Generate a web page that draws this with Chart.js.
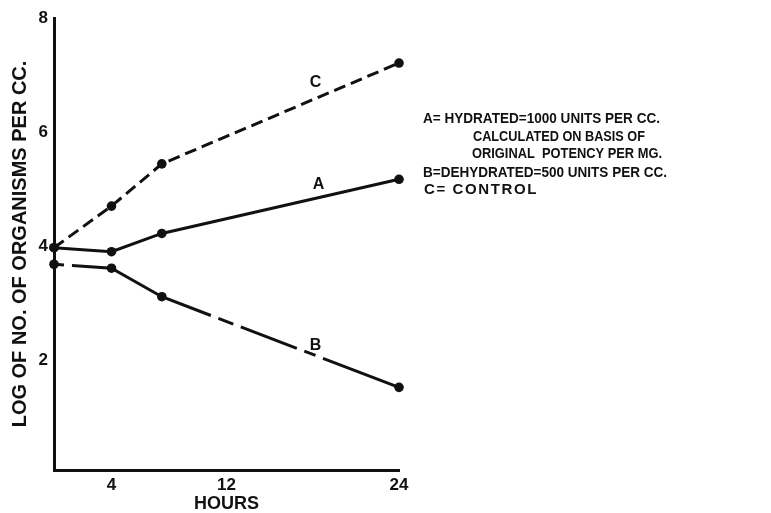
<!DOCTYPE html>
<html>
<head>
<meta charset="utf-8">
<script src="https://cdn.jsdelivr.net/npm/chart.js@4"></script>
<style>
  html, body { margin: 0; padding: 0; background: #fff; }
  #wrap { width: 771px; height: 513px; }
</style>
</head>
<body>
<div id="wrap"><canvas id="chart"></canvas></div>
<script>
// ==== Data ====
const hours = [0, 4, 7.5, 24];
const seriesA = [3.97, 3.90, 4.22, 5.17];   // hydrated
const seriesB = [3.68, 3.61, 3.11, 1.52];   // dehydrated
const seriesC = [3.97, 4.70, 5.44, 7.21];   // control
const xTicks = [4, 12, 24];
const yTicks = [2, 4, 6, 8];

// where the letters A/B/C sit, in data units
const tagNames = ['A', 'B', 'C'];
const tagHours = [18.4, 18.2, 18.2];
const tagValues = [5.07, 2.26, 6.86];

const noteLines = [
  'A= HYDRATED=1000 UNITS PER CC.',
  'CALCULATED ON BASIS OF',
  'ORIGINAL  POTENCY PER MG.',
  'B=DEHYDRATED=500 UNITS PER CC.',
  'C= CONTROL'
];

const INK = '#111';
const FONT = 'Liberation Sans';

function toPoints(ys) {
  return hours.map((h, i) => ({ x: h, y: ys[i] }));
}

function series(label, ys, dash) {
  return {
    label,
    data: toPoints(ys),
    borderColor: INK,
    backgroundColor: INK,
    borderWidth: 3,
    borderDash: dash,
    pointRadius: 4.8,
    pointHoverRadius: 4.8,
    pointBorderWidth: 0,
    tension: 0,
    clip: false
  };
}

// ==== Text overlay: line letters + key ====
const overlay = {
  id: 'overlay',
  afterDraw(chart) {
    const { ctx, scales } = chart;
    ctx.save();
    ctx.fillStyle = INK;
    ctx.textBaseline = 'middle';

    ctx.font = `bold 16px "${FONT}"`;
    ctx.textAlign = 'center';
    tagNames.forEach((t, i) => {
      ctx.fillText(t, scales.x.getPixelForValue(tagHours[i]), scales.y.getPixelForValue(tagValues[i]));
    });

    // key text, fitted to the width each line has in the figure
    ctx.font = `bold 15px "${FONT}"`;
    ctx.textAlign = 'left';
    const lefts = [423, 473, 472, 423, 424];
    const tops = [119, 137, 154, 173, 190];
    const widths = [237, 172, 190, 244, 114];
    noteLines.forEach((line, i) => {
      const w = ctx.measureText(line).width;
      ctx.save();
      ctx.translate(lefts[i], tops[i]);
      if (w > widths[i]) {
        ctx.scale(widths[i] / w, 1);
      } else {
        ctx.letterSpacing = ((widths[i] - w) / line.length).toFixed(2) + 'px';
      }
      ctx.fillText(line, 0, 0);
      ctx.restore();
    });
    ctx.restore();
  }
};

// ==== Chart ====
new Chart(document.getElementById('chart'), {
  type: 'line',
  data: {
    datasets: [
      series('A', seriesA, []),
      series('B', seriesB, [10, 8, 150, 8, 16, 8, 60, 8, 12, 8, 200]),
      series('C', seriesC, [12, 6])
    ]
  },
  options: {
    responsive: true,
    maintainAspectRatio: false,
    animation: false,
    events: [],
    layout: { padding: { top: 18, right: 372, left: 0, bottom: 0 } },
    plugins: {
      legend: { display: false },
      tooltip: { enabled: false }
    },
    scales: {
      x: {
        type: 'linear',
        min: 0,
        max: 24,
        afterBuildTicks: scale => { scale.ticks = xTicks.map(v => ({ value: v })); },
        afterFit: scale => { scale.height = 43; },
        grid: { display: false, drawTicks: false },
        border: { display: true, width: 3, color: INK },
        ticks: { color: INK, padding: 5, font: { family: FONT, size: 17, weight: 'bold' } },
        title: {
          display: true,
          text: 'HOURS',
          color: INK,
          padding: 0,
          font: { family: FONT, size: 18, weight: 'bold', lineHeight: 1 }
        }
      },
      y: {
        min: 0.07,
        max: 8,
        afterBuildTicks: scale => { scale.ticks = yTicks.map(v => ({ value: v })); },
        afterFit: scale => { scale.width = 54; },
        grid: { display: false, drawTicks: false },
        border: { display: true, width: 3, color: INK },
        ticks: { color: INK, padding: 6, font: { family: FONT, size: 17, weight: 'bold' } },
        title: {
          display: true,
          text: 'LOG OF NO. OF ORGANISMS PER CC.',
          color: INK,
          padding: { top: 8, bottom: 0 },
          font: { family: FONT, size: 20, weight: 'bold', lineHeight: 1.2 }
        }
      }
    }
  },
  plugins: [overlay]
});
</script>
</body>
</html>
